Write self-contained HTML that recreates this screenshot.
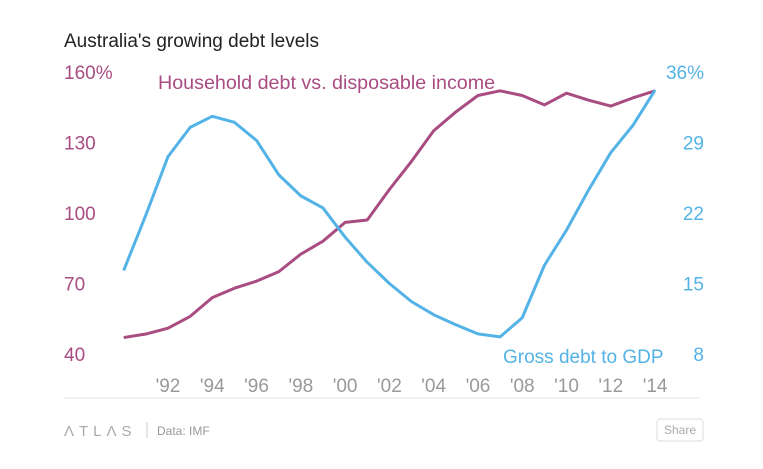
<!DOCTYPE html>
<html><head><meta charset="utf-8"><style>
body{margin:0;background:#fff;width:763px;height:464px;overflow:hidden;font-family:"Liberation Sans",sans-serif}
</style></head><body>
<svg width="763" height="464" xmlns="http://www.w3.org/2000/svg">
<text x="64" y="47" font-size="19" fill="#222" font-weight="500">Australia's growing debt levels</text>
<g id="leftAxis"></g>
<g id="rightAxis"></g>
<g id="xAxis"></g>
<g id="series"></g>
<text x="158" y="89" font-size="19.7" fill="#a84c82">Household debt vs. disposable income</text>
<text x="503" y="363" font-size="19" fill="#54b3e6">Gross debt to GDP</text>
<line x1="64" y1="398" x2="700" y2="398" stroke="#e5e5e5"/>
<text x="64" y="436" font-size="15" fill="#aaa" letter-spacing="5">ΛTLΛS</text>
<line x1="147" y1="422" x2="147" y2="438" stroke="#ccc"/>
<text x="157" y="435" font-size="12" fill="#999">Data: IMF</text>
<rect x="657" y="419" width="46" height="22" rx="3" fill="#fff" stroke="#ddd"/>
<text x="680" y="434" font-size="12" fill="#aaa" text-anchor="middle">Share</text>
</svg>
<script>
const years=[1990,1991,1992,1993,1994,1995,1996,1997,1998,1999,2000,2001,2002,2003,2004,2005,2006,2007,2008,2009,2010,2011,2012,2013,2014];
const household=[47,48.5,51,56,64,68,71,75,82.5,88,96,97,110,122,135,143,150,152,150,146,151,148,145.5,149,152];
const grossDebt=[16.3,21.8,27.6,30.5,31.6,31.0,29.2,25.8,23.7,22.5,19.6,17.1,15.0,13.2,11.9,10.9,10.0,9.7,11.6,16.8,20.3,24.3,28.0,30.7,34.2];
const leftTicks=[40,70,100,130,160];
const rightTicks=[8,15,22,29,36];
const xTicks=[1992,1994,1996,1998,2000,2002,2004,2006,2008,2010,2012,2014];
const NS="http://www.w3.org/2000/svg";
const x=yr=>168+(yr-1992)*22.14;
const yL=v=>354-(v-40)/30*70.5;
const yR=v=>354-(v-8)/7*70.5;
function mk(tag,attrs,parent,txt){const e=document.createElementNS(NS,tag);for(const k in attrs)e.setAttribute(k,attrs[k]);if(txt!=null)e.textContent=txt;document.getElementById(parent).appendChild(e);return e;}
leftTicks.forEach((t,i)=>{
 const e=mk('text',{x:64,y:yL(t)+7,'font-size':19,fill:'#a84c82'},'leftAxis',t+(i==leftTicks.length-1?'%':''));
 
 
});
rightTicks.forEach((t,i)=>{
 const e=mk('text',{x:704,y:yR(t)+7,'font-size':19,fill:'#54b3e6','text-anchor':'end'},'rightAxis',t+(i==rightTicks.length-1?'%':''));
 
 
});
xTicks.forEach(t=>{
 const e=mk('text',{x:x(t),y:392,'font-size':19,fill:'#999','text-anchor':'middle'},'xAxis',"'"+String(t).slice(2));
 
 
});
const p1=mk('polyline',{points:years.map((yr,i)=>x(yr)+','+yL(household[i])).join(' '),fill:'none',stroke:'#a84c82','stroke-width':3,'stroke-linejoin':'round'},'series');


const p2=mk('polyline',{points:years.map((yr,i)=>x(yr)+','+yR(grossDebt[i])).join(' '),fill:'none',stroke:'#54b3e6','stroke-width':3,'stroke-linejoin':'round'},'series');


</script>
</body></html>
